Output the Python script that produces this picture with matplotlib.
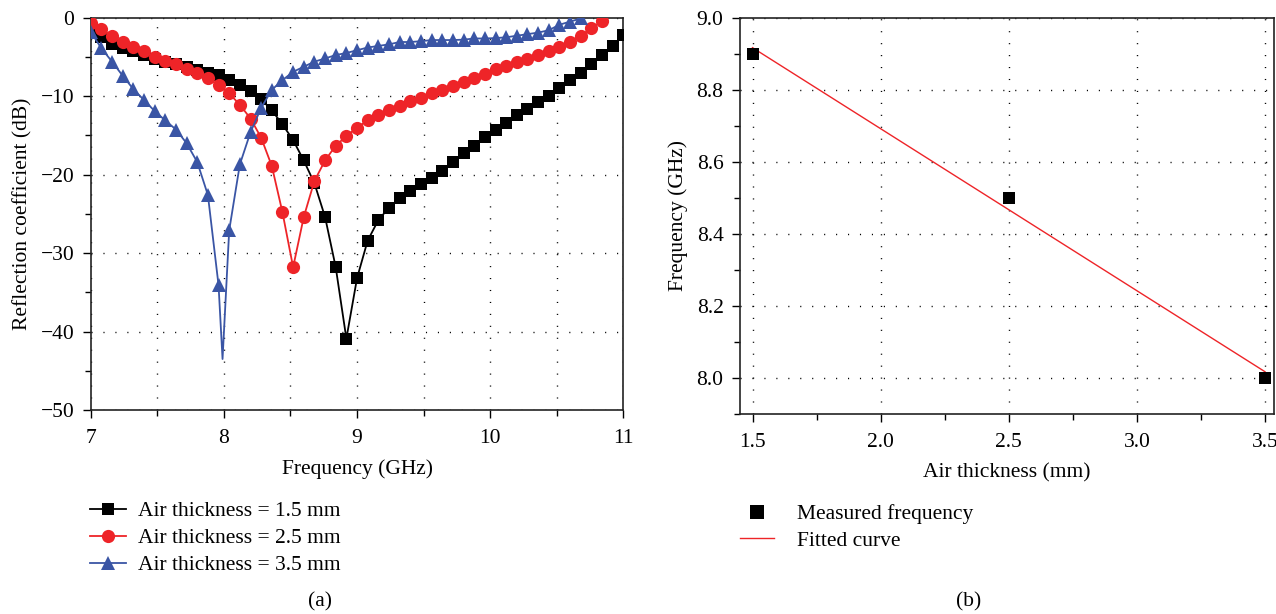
import numpy as np
import matplotlib
matplotlib.use('Agg')
import matplotlib.pyplot as plt
from matplotlib.lines import Line2D
from matplotlib.ticker import MultipleLocator, FormatStrFormatter

plt.rcParams['font.family'] = ['Liberation Serif', 'DejaVu Serif']
plt.rcParams['font.size'] = 15.5

# Sweep frequencies (GHz), 0.08 GHz apart
freq = [7.00, 7.08, 7.16, 7.24, 7.32, 7.40, 7.48, 7.56, 7.64, 7.72,
        7.80, 7.88, 7.96, 8.04, 8.12, 8.20, 8.28, 8.36, 8.44, 8.52,
        8.60, 8.68, 8.76, 8.84, 8.92, 9.00, 9.08, 9.16, 9.24, 9.32,
        9.40, 9.48, 9.56, 9.64, 9.72, 9.80, 9.88, 9.96, 10.04, 10.12,
        10.20, 10.28, 10.36, 10.44, 10.52, 10.60, 10.68, 10.76, 10.84, 10.92,
        11.00]

# Reflection coefficient (dB) for each air thickness
s11_15 = [-1.7, -2.4, -3.3, -3.8, -4.25, -4.8, -5.3, -5.6, -5.95, -6.3,
          -6.7, -7.0, -7.35, -7.95, -8.6, -9.3, -10.4, -11.8, -13.6, -15.6,
          -18.2, -21.1, -25.4, -31.8, -40.9, -33.2, -28.4, -25.8, -24.2, -23.0,
          -22.1, -21.2, -20.4, -19.5, -18.4, -17.2, -16.3, -15.2, -14.3, -13.4,
          -12.4, -11.7, -10.7, -10.0, -9.0, -8.0, -7.0, -5.95, -4.8, -3.6,
          -2.2]
s11_25 = [-0.7, -1.5, -2.3, -3.1, -3.7, -4.3, -5.0, -5.5, -5.9, -6.5,
          -7.1, -7.7, -8.6, -9.65, -11.1, -12.85, -15.3, -18.9, -24.8, -31.8,
          -25.4, -20.8, -18.2, -16.3, -15.1, -14.0, -13.1, -12.4, -11.8, -11.2,
          -10.6, -10.2, -9.65, -9.2, -8.7, -8.2, -7.7, -7.2, -6.6, -6.2,
          -5.7, -5.3, -4.7, -4.3, -3.7, -3.1, -2.3, -1.35, -0.4]
s11_35 = [-1.8, -3.9, -5.6, -7.4, -9.1, -10.5, -11.9, -13.1, -14.25, -16.0,
          -18.4, -22.6, -34.1, -27.1, -18.7, -14.6, -11.5, -9.2, -7.96, -6.9,
          -6.25, -5.6, -5.2, -4.76, -4.5, -4.15, -3.8, -3.6, -3.4, -3.1,
          -3.1, -3.0, -2.85, -2.85, -2.85, -2.8, -2.65, -2.65, -2.6, -2.5,
          -2.3, -2.1, -1.9, -1.6, -0.9, -0.5, -0.1]
# deepest point of the 3.5 mm curve (line only, no marker)
dip35_freq = 7.99
dip35_db = -43.5

labels_a = ['Air thickness = 1.5 mm', 'Air thickness = 2.5 mm', 'Air thickness = 3.5 mm']

# Panel (b)
thickness = [1.5, 2.5, 3.5]
measured = [8.9, 8.5, 8.0]

black = '#000000'
red = '#EE2428'
blue = '#3A55A5'
grid_kw = dict(color='black', linestyle=(0, (0.8, 7.8)), linewidth=1.0)

fig = plt.figure(figsize=(12.76, 6.14), dpi=100)
ax1 = fig.add_axes([0.0711, 0.3322, 0.4174, 0.639])
ax2 = fig.add_axes([0.5799, 0.3262, 0.4185, 0.645])

# ---- (a) ----
f = np.array(freq)
series = [
    (f[:len(s11_15)], np.array(s11_15), black, 's', 9),
    (f[:len(s11_25)], np.array(s11_25), red, 'o', 9.5),
    (f[:len(s11_35)], np.array(s11_35), blue, '^', 10.5),
]
handles = []
for k, (x, y, c, m, ms) in enumerate(series):
    if k == 2:
        pos = np.searchsorted(x, dip35_freq)
        xl = np.insert(x, pos, dip35_freq)
        yl = np.insert(y, pos, dip35_db)
    else:
        xl, yl = x, y
    ax1.plot(xl, yl, color=c, lw=1.3, zorder=3 + k)
    ax1.plot(x, y, ls='none', marker=m, ms=ms, color=c, mew=0, zorder=3 + k)
    handles.append(Line2D([], [], color=c, lw=1.3, marker=m, ms=ms, mew=0))

ax1.set_xlim(7, 11)
ax1.set_ylim(-50, 0)
ax1.xaxis.set_major_locator(MultipleLocator(1))
ax1.xaxis.set_minor_locator(MultipleLocator(0.5))
ax1.yaxis.set_major_locator(MultipleLocator(10))
ax1.yaxis.set_minor_locator(MultipleLocator(5))
ax1.grid(True, which='both', axis='x', **grid_kw)
ax1.grid(True, which='major', axis='y', **grid_kw)
ax1.set_xlabel('Frequency (GHz)', labelpad=8)
ax1.set_ylabel('Reflection coefficient (dB)', labelpad=6)
ax1.legend(handles, labels_a, loc='upper left', bbox_to_anchor=(90 / 1276, 1 - 501 / 614),
           bbox_transform=fig.transFigure, frameon=False, borderpad=0, borderaxespad=0,
           handlelength=1.65, handletextpad=0.6, labelspacing=0.33)

# ---- (b) ----
slope, icpt = np.polyfit(thickness, measured, 1)
tt = np.array([thickness[0], thickness[-1]])
ax2.plot(tt, slope * tt + icpt, color=red, lw=1.0, zorder=3)
ax2.plot(thickness, measured, ls='none', marker='s', ms=9, color='black', mew=0, zorder=4)
ax2.set_xlim(1.451, 3.535)
ax2.set_ylim(7.9, 9.0)
ax2.xaxis.set_major_locator(MultipleLocator(0.5))
ax2.xaxis.set_minor_locator(MultipleLocator(0.25))
ax2.yaxis.set_major_locator(MultipleLocator(0.2))
ax2.yaxis.set_minor_locator(MultipleLocator(0.1))
ax2.xaxis.set_major_formatter(FormatStrFormatter('%.1f'))
ax2.yaxis.set_major_formatter(FormatStrFormatter('%.1f'))
ax2.grid(True, which='major', **grid_kw)
ax2.set_xlabel('Air thickness (mm)', labelpad=8)
ax2.set_ylabel('Frequency (GHz)', labelpad=6)
h_b = [Line2D([], [], ls='none', marker='s', ms=10.5, color='black', mew=0),
       Line2D([], [], color=red, lw=1.0)]
ax2.legend(h_b, ['Measured frequency', 'Fitted curve'], loc='upper left',
           bbox_to_anchor=(740 / 1276, 1 - 504 / 614), bbox_transform=fig.transFigure,
           frameon=False, borderpad=0, borderaxespad=0,
           handlelength=1.6, handletextpad=1.05, labelspacing=0.3)

for ax in (ax1, ax2):
    ax.set_axisbelow(True)
    for s in ax.spines.values():
        s.set_linewidth(1.2)
        s.set_color('#222222')
    ax.tick_params(which='major', direction='out', length=5.8, width=1.0)
    ax.tick_params(which='minor', direction='out', length=4.0, width=1.0)
    ax.tick_params(axis='x', which='major', pad=8)
    ax.tick_params(axis='y', which='major', pad=6)
    ax.tick_params(top=False, right=False)

fig.text(320 / 1276, 1 - 602 / 614, '(a)', ha='center', va='center')
fig.text(969 / 1276, 1 - 602 / 614, '(b)', ha='center', va='center')

fig.savefig('out.png', dpi=100)
